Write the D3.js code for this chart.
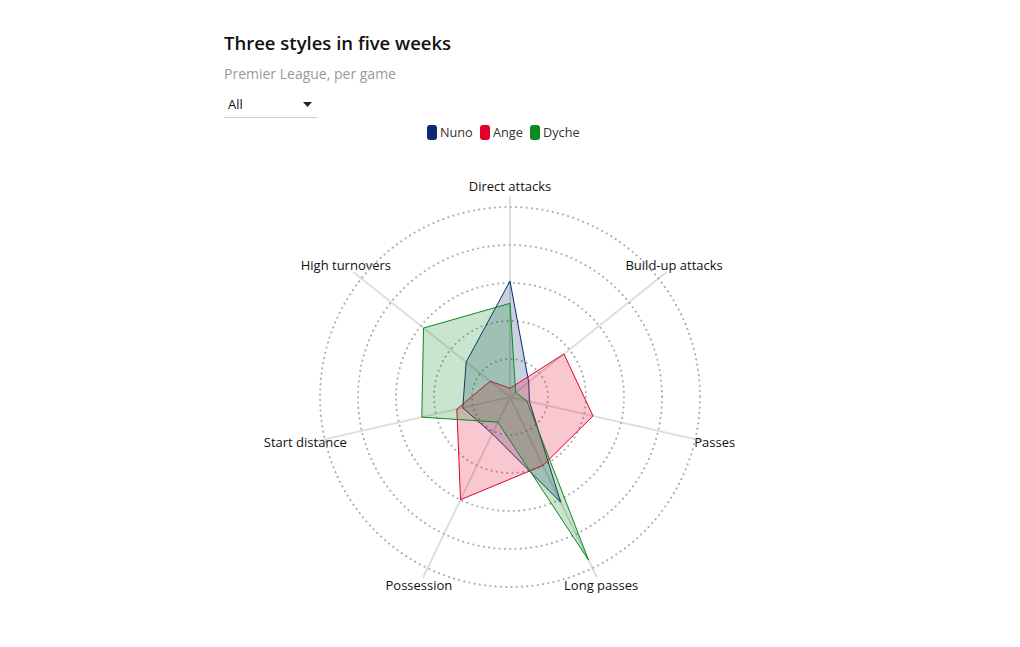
<!DOCTYPE html>
<html>
<head>
<meta charset="utf-8">
<script src="https://cdn.jsdelivr.net/npm/d3@7"></script>
<style>
  body { margin: 0; background: #fff; font-family: "Open Sans", "Noto Sans", sans-serif; }
  svg text { font-family: "Open Sans", "Noto Sans", sans-serif; }
</style>
</head>
<body>
<svg id="chart" width="1020" height="647"></svg>
<script>
const axesLabels = ["Direct attacks", "Build-up attacks", "Passes", "Long passes", "Possession", "Start distance", "High turnovers"];
const seriesNames = ["Nuno", "Ange", "Dyche"];
const seriesColors = ["#0b2a6f", "#e4002b", "#0a8a1f"];
const nunoValues  = [61, 12.6, 10.5, 61.5, 21.5, 25.5, 29.5];
const angeValues  = [4.6, 36.3, 44.8, 40, 60, 28.7, 13.3];
const dycheValues = [49.3, 3.8, 9.1, 95.2, 14.7, 47.6, 58.2];
const ringTicks = [20, 40, 60, 80, 100];
const allSeries = [nunoValues, angeValues, dycheValues];

const svg = d3.select("#chart");
const cx = 510, cy = 397, R = 190;

// Header
svg.append("text").attr("x", 224).attr("y", 50).attr("font-size", 18.5).attr("font-weight", 600)
  .attr("fill", "#111").text("Three styles in five weeks");
svg.append("text").attr("x", 224).attr("y", 79).attr("font-size", 14)
  .attr("fill", "#9a9a9a").text("Premier League, per game");
svg.append("text").attr("x", 228).attr("y", 109).attr("font-size", 13)
  .attr("fill", "#111").text("All");
svg.append("path").attr("d", "M303,102 L312,102 L307.5,107 Z").attr("fill", "#222");
svg.append("line").attr("x1", 224).attr("x2", 317).attr("y1", 117.5).attr("y2", 117.5)
  .attr("stroke", "#ccc").attr("stroke-width", 1);

// Legend
const legendX = [427, 480, 530];
const lg = svg.append("g");
seriesNames.forEach((n, i) => {
  lg.append("rect").attr("x", legendX[i]).attr("y", 125).attr("width", 10).attr("height", 15)
    .attr("rx", 3).attr("fill", seriesColors[i]);
  lg.append("text").attr("x", legendX[i] + 13).attr("y", 137).attr("font-size", 12.7)
    .attr("fill", "#333").text(n);
});

const r = d3.scaleLinear().domain([0, 100]).range([0, R]);
const angle = d3.scaleLinear().domain([0, axesLabels.length]).range([0, 2 * Math.PI]);
const g = svg.append("g").attr("transform", `translate(${cx},${cy})`);

// Axis lines
axesLabels.forEach((lab, i) => {
  const a = angle(i);
  const len = r(105.5);
  g.append("line").attr("x1", 0).attr("y1", 0)
    .attr("x2", Math.sin(a) * len).attr("y2", -Math.cos(a) * len)
    .attr("stroke", "#dedede").attr("stroke-width", 2);
  const lr = r(110.5);
  g.append("text").attr("x", Math.sin(a) * lr).attr("y", -Math.cos(a) * lr)
    .attr("text-anchor", "middle").attr("dominant-baseline", "middle")
    .attr("font-size", 13).attr("fill", "#111").text(lab);
});

// Rings
ringTicks.forEach(t => {
  g.append("circle").attr("r", r(t)).attr("fill", "none")
    .attr("stroke", "#aaa").attr("stroke-width", 2)
    .attr("stroke-linecap", "round").attr("stroke-dasharray", "0.1,5.2");
});

// Areas
const radial = d3.lineRadial().angle((d, i) => angle(i)).radius(d => r(d)).curve(d3.curveLinearClosed);
allSeries.forEach((vals, i) => {
  g.append("path").attr("d", radial(vals))
    .attr("fill", seriesColors[i]).attr("fill-opacity", 0.22)
    .attr("stroke", seriesColors[i]).attr("stroke-width", 1);
});
</script>
</body>
</html>
